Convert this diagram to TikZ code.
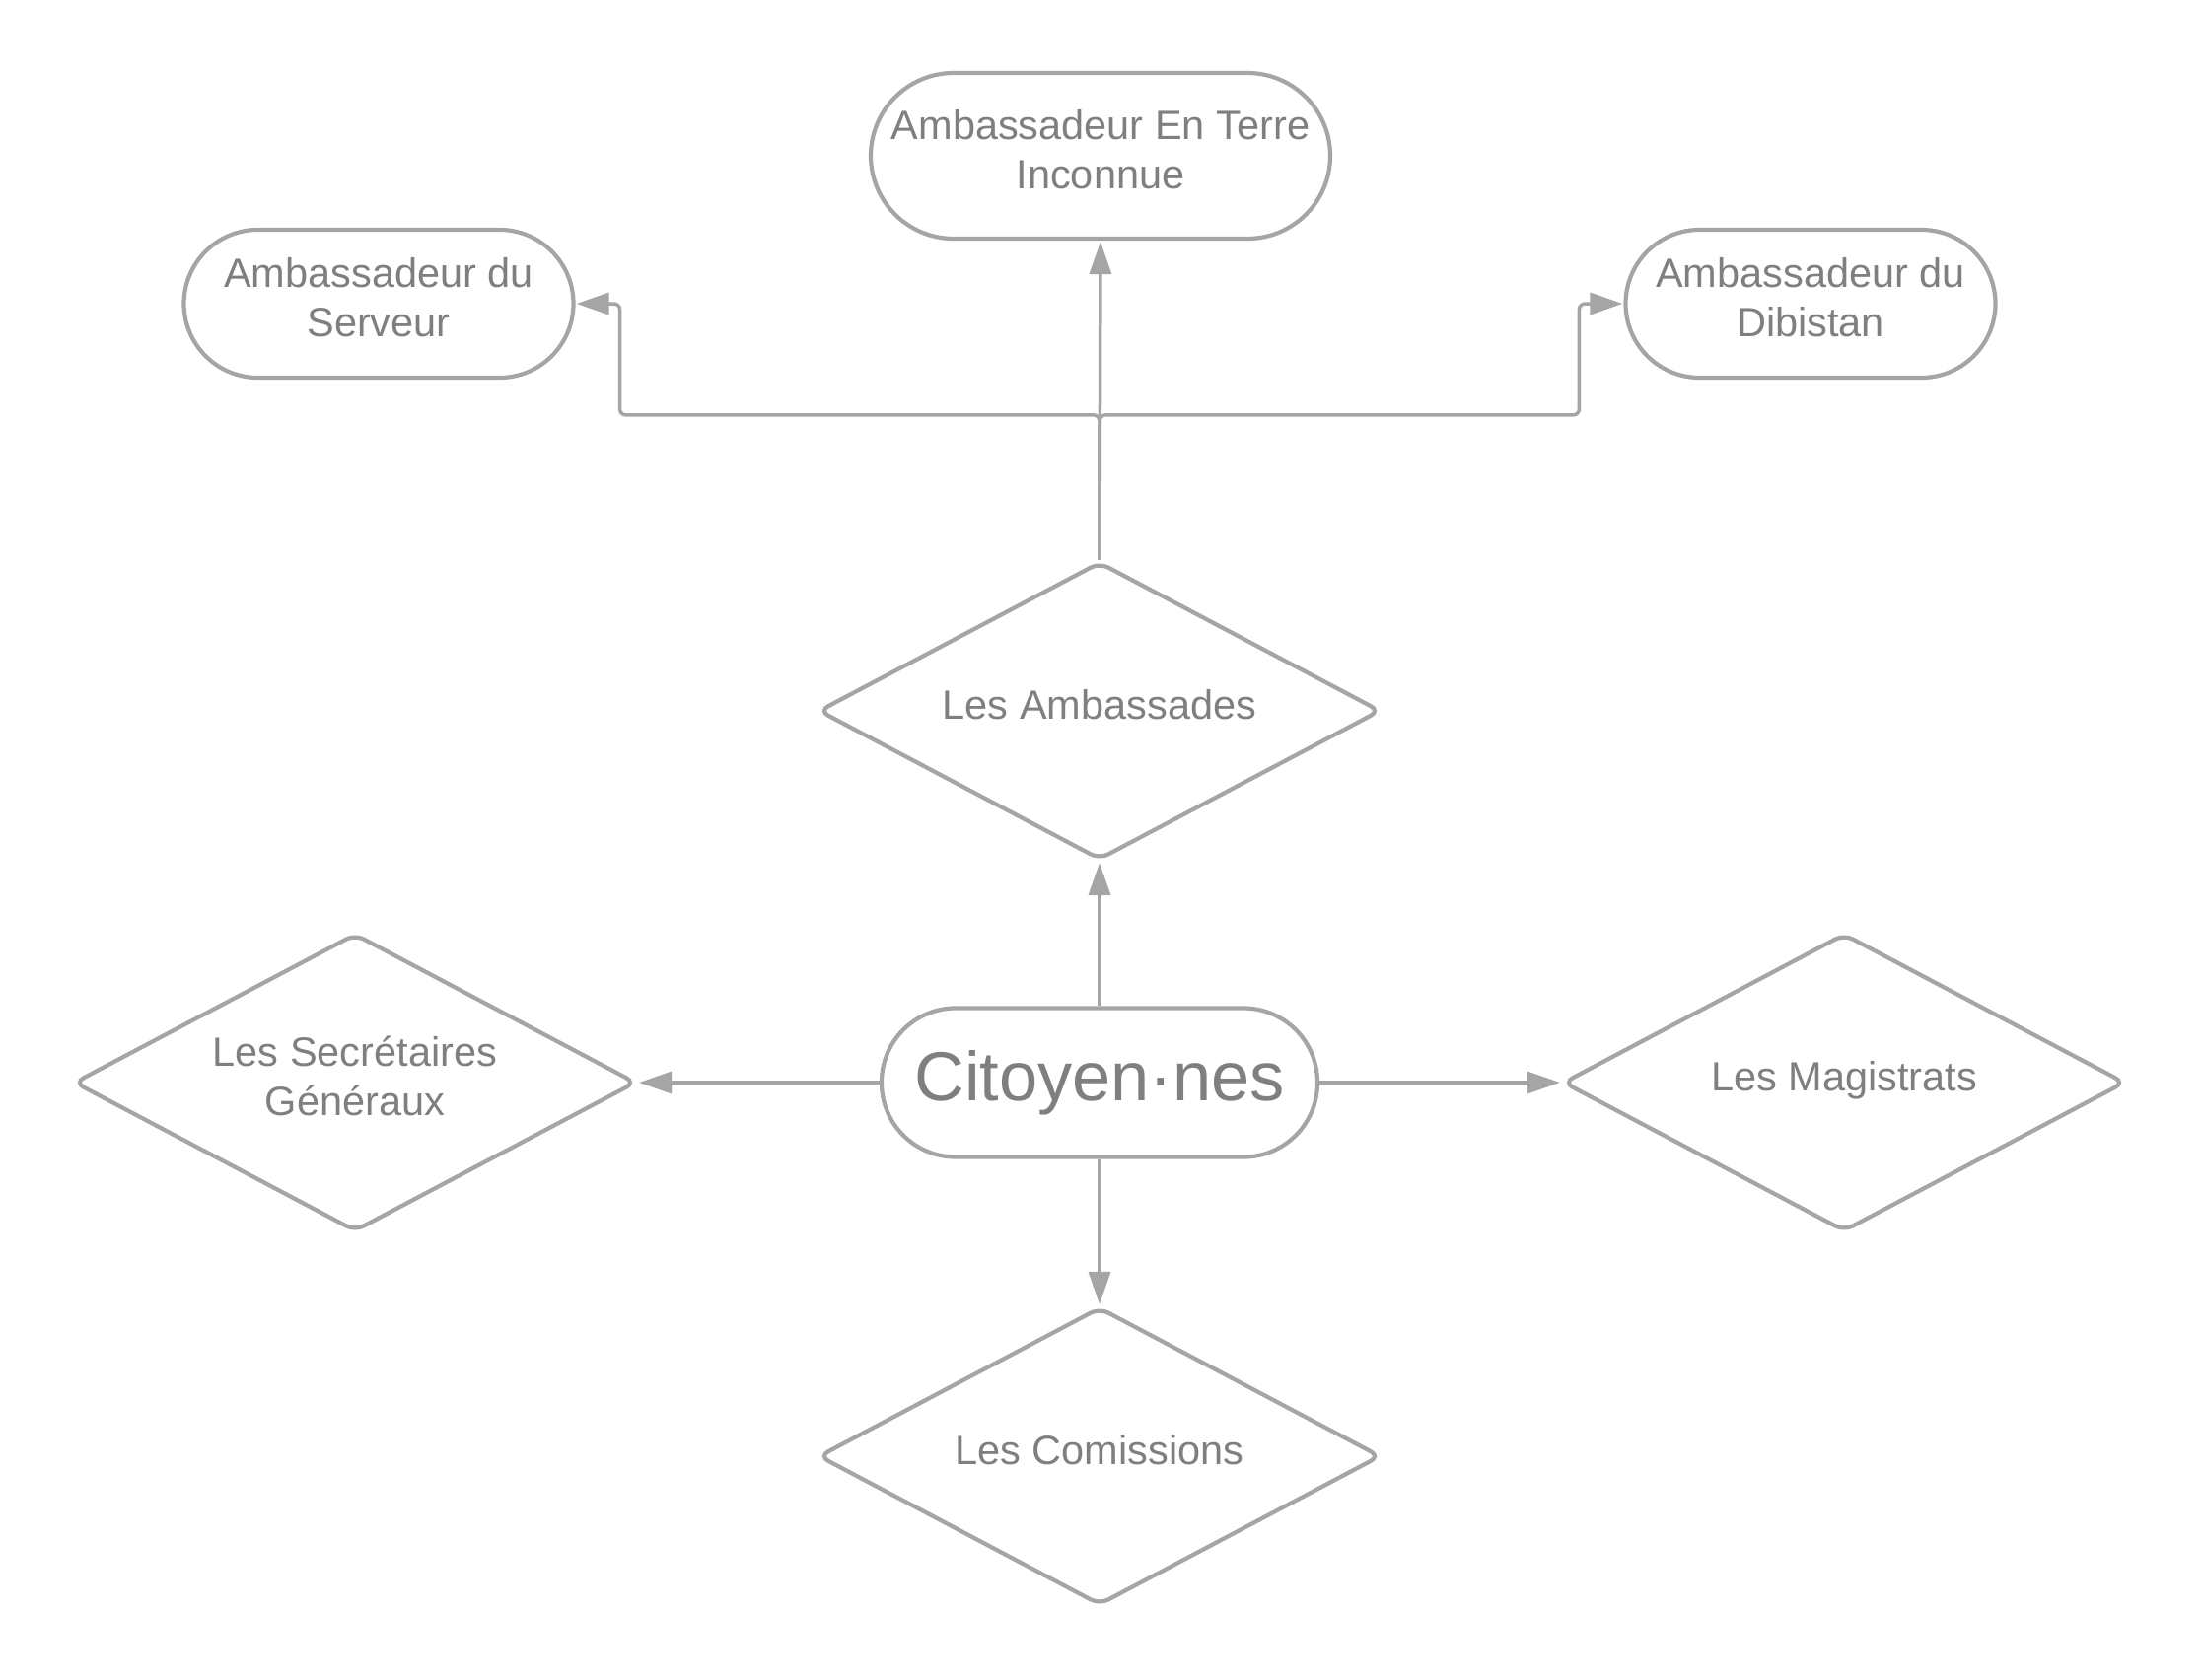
\documentclass[tikz,border=0pt]{standalone}
\usepackage{fontspec}
\setmainfont{Liberation Sans}
\usetikzlibrary{arrows.meta,shapes.geometric,calc}
\definecolor{lngray}{HTML}{A5A5A5}
\definecolor{txgray}{HTML}{7F7F7F}

\begin{document}
\begin{tikzpicture}[
  x=1pt,y=1pt,
  font=\fontsize{41.5}{50}\selectfont,
  pill/.style={draw=lngray,line width=4.2pt,rounded corners=#1,align=center,
               inner sep=0pt,text depth=14pt,text=txgray,fill=white},
  dia/.style ={diamond,draw=lngray,line width=4.2pt,rounded corners=10pt,align=center,
               inner sep=0pt,text depth=14pt,aspect=1.887,minimum width=570,minimum height=302,
               text=txgray,fill=white},
  ar/.style  ={-{Triangle[length=33pt,width=22pt]},draw=lngray,line width=3.5pt,shorten >=1pt},
  ard/.style ={ar,rounded corners=6pt}
]
\useasboundingbox[fill=white] (0,0) rectangle (2233,-1703);

% ======== ambassadors
\node[pill=84,minimum width=466,minimum height=168] (terre) at (1116,-158)
  {Ambassadeur En Terre\\Inconnue};
\node[pill=75,minimum width=395,minimum height=150] (srv) at (384,-308)
  {Ambassadeur du\\Serveur};
\node[pill=75,minimum width=375,minimum height=150] (dib) at (1836,-308)
  {Ambassadeur du\\Dibistan};

% ======== diamonds
\node[dia] (amb) at (1115,-721)  {Les Ambassades};
\node[dia] (sec) at (360,-1098)  {Les Secrétaires\\Généraux};
\node[dia] (mag) at (1870,-1098) {Les Magistrats};
\node[dia] (com) at (1115,-1477) {Les Comissions};

% ======== centre
\node[pill=75,minimum width=442,minimum height=151,text depth=15pt,
      font=\fontsize{70.4}{80}\selectfont] (cit) at (1115,-1098) {Citoyen·nes};

% ======== arrows from the centre
\draw[ar] (cit.north) -- (amb.south);
\draw[ar] (cit.west)  -- (sec.east);
\draw[ar] (cit.east)  -- (mag.west);
\draw[ar] (cit.south) -- (com.north);

% ======== branches of the embassies
\coordinate (jn) at ($(amb.north)+(0,147)$);
\coordinate (jl) at ($(srv.east)+(45,0)$);
\coordinate (jr) at ($(dib.west)+(-45,0)$);
\draw[ar] (amb.north) -- (terre.south);
\draw[ard] (amb.north) -- (jn) -| (jl) -- (srv.east);
\draw[ard] (amb.north) -- (jn) -| (jr) -- (dib.west);
\end{tikzpicture}
\end{document}
